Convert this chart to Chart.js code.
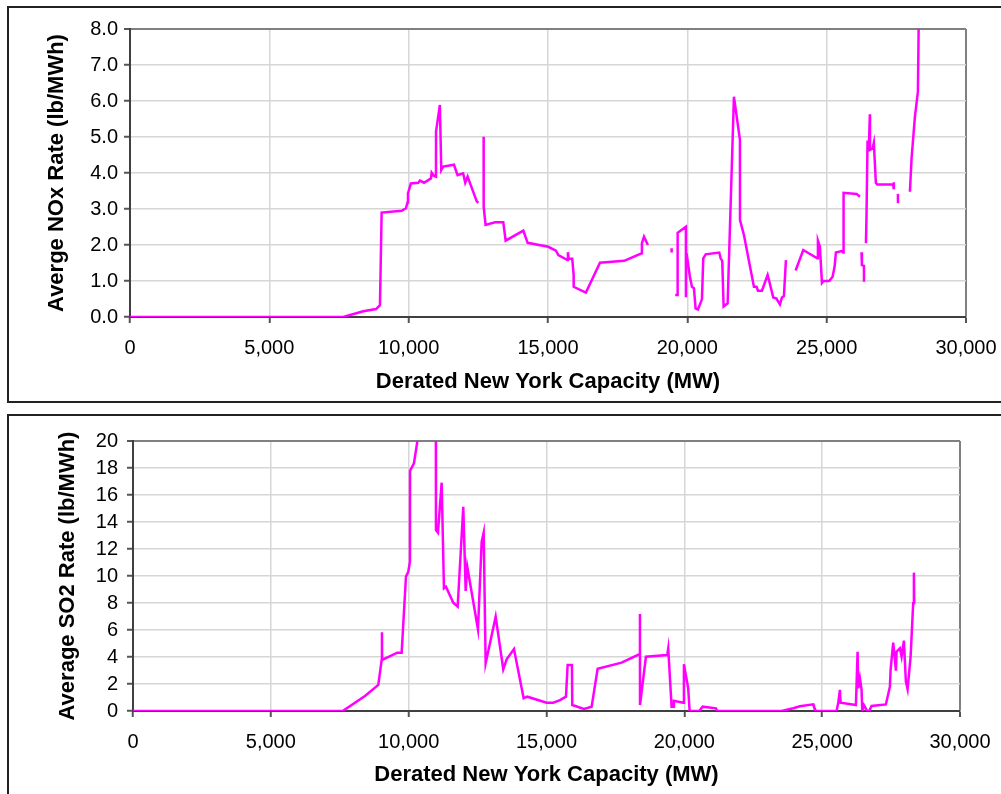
<!DOCTYPE html>
<html>
<head>
<meta charset="utf-8">
<script src="https://cdn.jsdelivr.net/npm/chart.js@4/dist/chart.umd.min.js"></script>
<style>
  body { margin: 0; background: #fff; width: 1001px; height: 794px; overflow: hidden; position: relative; }
  .box { position: absolute; left: 7px; width: 1000px; border: 2px solid #222; box-sizing: border-box; }
  canvas { position: absolute; left: 0; }
</style>
</head>
<body>
<div class="box" style="top:6px;height:397px"></div>
<div class="box" style="top:414px;height:400px"></div>
<canvas id="nox" width="1001" height="408" style="top:0"></canvas>
<canvas id="so2" width="1001" height="386" style="top:408px"></canvas>
<script>
// NOx curve (null = gap in the line)
const noxCapacity = [0, 7650, 8370, 8830, 8970, 9030, 9750, 9900, 9960, 9975, 10080, 10345, 10405, 10550,
  10800, 10825, 10910, 10980, 10982, 11120, 11170, 11240, 11625, 11755, 11955, 12030, 12115, 12440, 12500,
  12600, 12690, 12692, 12760, 13100, 13395, 13480, 14115, 14270, 15010, 15285, 15370, 15700, 15715, 15740,
  15870, 15920, 15922, 16360, 16865, 17735, 18360, 18370, 18445, 18585,
  19000, 19435, 19437, 19500, 19565, 19650, 19652, 19948, 19950, 19960,
  19972, 20093, 20165, 20237, 20297, 20380, 20524, 20572, 20657, 21146, 21194, 21253, 21302, 21446, 21672,
  21888, 21890, 22031, 22390, 22486, 22533, 22677, 22881, 22928, 23083, 23203, 23229, 23323, 23394, 23466, 23538,
  23700, 23885, 24160, 24661, 24686, 24758, 24830, 24878, 25090, 25213, 25285, 25331, 25536, 25593, 25607,
  26073, 26193, 26220, 26250, 26265, 26337, 26340, 26380, 26409, 26431, 26467, 26510, 26550, 26555, 26645,
  26693, 26765, 26813, 27386, 27410, 27412, 27480, 27556, 27558, 27800, 27987, 28047, 28166, 28274, 28300];
const noxRate = [0, 0, 0.16, 0.22, 0.33, 2.90, 2.95, 3.02, 3.18, 3.43, 3.71, 3.73, 3.79, 3.73,
  3.85, 4.01, 3.92, 3.90, 5.15, 5.89, 4.08, 4.18, 4.23, 3.94, 3.99, 3.73, 3.90, 3.22, 3.17,
  null, 5.01, 3.06, 2.56, 2.63, 2.63, 2.12, 2.40, 2.06, 1.95, 1.84, 1.72, 1.58, 1.80, 1.62,
  1.62, 1.17, 0.84, 0.68, 1.51, 1.56, 1.77, 2.05, 2.23, 2.00,
  null, 1.91, 1.79, null, 0.61, 0.61, 2.34, 2.51, 0.55, null,
  1.77, 1.12, 0.84, 0.80, 0.24, 0.21, 0.49, 1.63, 1.74, 1.79, 1.63, 1.56, 0.29, 0.38, 6.12,
  4.92, 2.69, 2.28, 0.84, 0.84, 0.73, 0.73, 1.17, 1.03, 0.54, 0.51, 0.47, 0.35, 0.54, 0.58, 1.58,
  null, 1.29, 1.86, 1.63, 2.12, 1.95, 0.95, 1.00, 1.00, 1.12, 1.40, 1.79, 1.83, 1.79, 3.45,
  3.42, 3.34, null, 1.80, 1.44, 1.42, 0.98, null, 2.05, 2.88, 4.90, 4.62, 5.63, 4.64, 4.68,
  4.84, 3.73, 3.68, 3.68, 3.74, 3.55, null, 3.42, 3.16, null, 3.48, 4.41, 5.56, 6.26, 8.0];

// SO2 curve
const so2Capacity = [0, 7606, 8415, 8898, 9020, 9031, 9035, 9587, 9746, 9902, 9986, 10047, 10050, 10192, 10313,
  10400, 10985, 10990, 11063, 11197, 11280, 11353, 11618, 11777, 11981, 12068, 12126, 12514, 12648, 12721,
  12793, 13156, 13432, 13554, 13820, 14171, 14302, 15005, 15246, 15488, 15706, 15767, 15923, 15934, 16358,
  16637, 16855, 17725, 18364, 18390, 18392, 18607, 19380, 19416, 19538, 19597, 19622, 19960, 19985, 20141,
  20192, 20540, 20664, 21146, 21194, 23529, 23950, 24193, 24676, 24701, 24773, 25524, 25583, 25644, 25668,
  26224, 26285, 26309, 26369, 26430, 26453, 26515, 26634, 26706, 26793, 27312, 27457, 27482, 27577, 27639,
  27675, 27700, 27820, 27881, 27965, 28037, 28099, 28208, 28302, 28328, 28340];
const so2Rate = [0, 0, 1.11, 1.93, 3.78, 5.83, 3.78, 4.32, 4.32, 9.95, 10.32, 11.06, 17.80, 18.35, 19.95,
  23.0, 23.0, 13.41, 13.21, 16.91, 9.09, 9.21, 8.02, 7.73, 15.13, 8.89, 10.69, 6.05, 12.54, 13.21,
  3.53, 6.99, 3.09, 3.83, 4.59, 0.94, 1.06, 0.62, 0.62, 0.81, 1.06, 3.41, 3.41, 0.44, 0.15,
  0.32, 3.13, 3.58, 4.20, 7.19, 0.44, 4.02, 4.15, 4.64, 0.32, 0.32, 0.76, 0.62, 3.46, 1.68,
  0, 0, 0.32, 0.20, 0, 0, 0.20, 0.35, 0.49, 0.32, 0, 0, 0.62, 1.56, 0.62,
  0.44, 4.39, 1.68, 2.42, 1.56, 0, 0.44, 0, 0, 0.37, 0.49, 1.80, 3.04, 5.06, 3.78,
  2.99, 4.39, 4.64, 4.02, 5.21, 2.17, 1.61, 4.02, 7.98, 10.25, 7.98];

const xTicks = [0, 5000, 10000, 15000, 20000, 25000, 30000];
const xTitle = 'Derated New York Capacity (MW)';

const FONT = "'Liberation Sans', Arial, sans-serif";

const makeChart = (id, xs, ys, opts) => {
  const points = xs.map((x, i) => ({ x, y: ys[i] }));
  return new Chart(document.getElementById(id), {
    type: 'line',
    data: {
      datasets: [{
        data: points,
        borderColor: '#FF00FF',
        borderWidth: 2.5,
        pointRadius: 0,
        tension: 0,
        spanGaps: false,
        clip: 0
      }]
    },
    options: {
      responsive: false,
      animation: false,
      devicePixelRatio: 1,
      layout: { padding: { top: opts.padTop, right: opts.padRight, left: 0, bottom: 0 } },
      plugins: { legend: { display: false }, tooltip: { enabled: false } },
      scales: {
        x: {
          type: 'linear',
          min: 0,
          max: 30000,
          afterBuildTicks: s => { s.ticks = xTicks.map(v => ({ value: v })); },
          afterFit: s => {
            s.height = opts.xHeight;
            s.paddingLeft = 0;
            s.paddingRight = 0;
          },
          grid: {
            color: c => c.tick && c.tick.value === 30000 ? '#808080' : '#d6d6d6',
            lineWidth: c => c.tick && c.tick.value === 30000 ? 2 : 1.5,
            tickLength: 6,
            tickColor: '#555',
            tickWidth: 2
          },
          border: { color: '#404040', width: 2 },
          ticks: {
            color: '#000',
            font: { family: FONT, size: 20 },
            padding: 13,
            maxRotation: 0,
            callback: v => v.toLocaleString('en-US')
          },
          title: {
            display: true,
            text: xTitle,
            color: '#000',
            font: { family: FONT, size: 22, weight: 'bold' },
            padding: { top: 0, bottom: opts.xTitlePad }
          }
        },
        y: {
          min: 0,
          max: opts.yMax,
          afterFit: s => {
            s.width = opts.yWidth;
            s.paddingTop = 0;
            s.paddingBottom = 0;
          },
          ticks: {
            stepSize: opts.yStep,
            color: '#000',
            font: { family: FONT, size: 20 },
            padding: opts.yTickPad,
            callback: opts.yFormat
          },
          grid: {
            color: c => c.tick && c.tick.value === opts.yMax ? '#808080' : '#d6d6d6',
            lineWidth: c => c.tick && c.tick.value === opts.yMax ? 2 : 1.5,
            tickLength: 6,
            tickColor: '#555',
            tickWidth: 2
          },
          border: { color: '#404040', width: 2 },
          title: {
            display: true,
            text: opts.yTitle,
            color: '#000',
            font: { family: FONT, size: 22, weight: 'bold' },
            padding: { top: opts.yTitlePad, bottom: 0 }
          }
        }
      }
    }
  });
};

makeChart('nox', noxCapacity, noxRate, {
  padTop: 29, padRight: 35, xHeight: 91, yWidth: 130, xTitlePad: 13,
  yMax: 8, yStep: 1, yTickPad: 6, yFormat: v => v.toFixed(1),
  yTitle: 'Averge NOx Rate (lb/MWh)', yTitlePad: 44
});

makeChart('so2', so2Capacity, so2Rate, {
  padTop: 33, padRight: 41, xHeight: 83, yWidth: 133, xTitlePad: 6,
  yMax: 20, yStep: 2, yTickPad: 9, yFormat: v => String(v),
  yTitle: 'Average SO2 Rate (lb/MWh)', yTitlePad: 55
});
</script>
</body>
</html>
